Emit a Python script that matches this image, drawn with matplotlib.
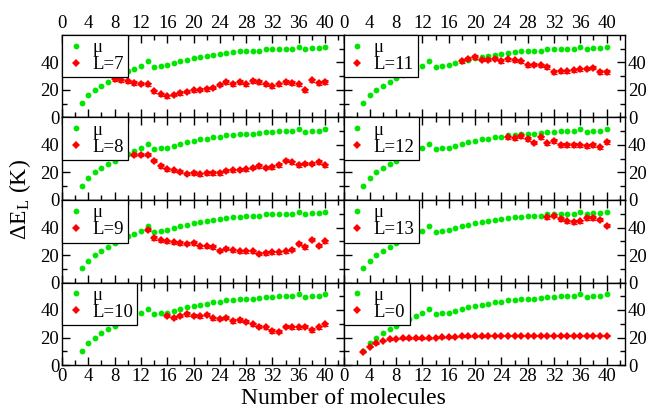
import numpy as np
import matplotlib
matplotlib.use('Agg')
from matplotlib import pyplot as plt

plt.rcParams['font.family'] = ['Liberation Serif', 'DejaVu Serif']
plt.rcParams['mathtext.fontset'] = 'stix'

# chemical potential (same in every panel), N = 3..40
mu_x = np.arange(3, 41)
mu = [10.5, 16, 20, 23, 26, 28.5, 31, 33.5, 35.5, 37.5, 41, 37, 37.5, 38, 39.5, 41,
      42, 43, 44, 44.5, 45.5, 46, 47, 47.5, 48, 48.2, 48.2, 48.7, 49.5, 49.5, 50,
      50, 50, 51.5, 49.5, 50.5, 50.5, 51.5]

labels = ['L=7', 'L=8', 'L=9', 'L=10', 'L=11', 'L=12', 'L=13', 'L=0']
starts = [8, 11, 13, 16, 18, 25, 31, 3]
errs = [1.2, 1.2, 1.2, 1.2, 1.2, 1.3, 1.3, 0.4]

L7 = [28, 27, 26.3, 25, 24.6, 24, 19, 16.8, 15.3, 16.5, 17.8, 18.7, 19.7, 20.2, 20.7,
      21.7, 23.8, 25.8, 24.3, 25.8, 24, 26.5, 25.8, 24, 22.6, 24, 25.8, 25, 24, 19.7,
      27, 25, 25.8]
L8 = [33, 33, 33, 28.5, 24.8, 22.4, 21.7, 20.7, 19.2, 19.7, 18.7, 19.7, 19.7, 19.7,
      21.2, 21.7, 22.1, 22.4, 23.6, 24.8, 23.6, 24, 25.5, 28.5, 27.3, 25.5, 26.5, 26.5,
      27.7, 25.3]
L9 = [38.4, 32.4, 30.7, 29.9, 29.2, 28.7, 28.2, 28.7, 26.3, 26.3, 25.8, 23.1, 24.6,
      23.4, 22.6, 22.6, 22.6, 20.9, 21.4, 21.9, 21.9, 22.6, 23.8, 28.2, 25.8, 31.1,
      26.8, 29.9]
L10 = [36, 34.5, 36, 37, 36, 35.3, 36.5, 34, 33.6, 34.5, 32.1, 32.8, 31.6, 29.7, 28,
       27.3, 24.8, 24.3, 28, 27.3, 27.3, 28, 25.5, 27.3, 29.7]
L11 = [41, 42.8, 44, 42, 42, 42.8, 41, 42.3, 41.6, 40.9, 38, 38.4, 38, 36.7, 33, 33.6,
       33.6, 34.3, 35, 35.5, 36.2, 33, 33]
L12 = [45.5, 44.8, 46.7, 44.3, 41.8, 45.5, 41.1, 43, 40, 40.1, 40.1, 39.7, 39.2, 40,
       38.2, 42.3]
L13 = [47.4, 48.7, 46.2, 44.5, 44, 44.5, 47, 47, 45.7, 41.4]
L0 = [9.7, 13.4, 15.8, 17.5, 18.7, 19.2, 19.5, 19.6, 19.6, 19.6, 19.4, 20, 20.2, 20.4,
      20.6, 20.8, 21, 21, 21.1, 21.2, 21.2, 21.2, 21.3, 21.3, 21.3, 21.3, 21.3, 21.3,
      21.3, 21.3, 21.3, 21.3, 21.3, 21.3, 21.3, 21.3, 21.3, 21.4]
series = [L7, L8, L9, L10, L11, L12, L13, L0]

green = '#00e600'
red = '#ff0000'

fig = plt.figure(figsize=(6.53, 4.12), dpi=100)
left, mid, right = 62 / 653, 343.5 / 653, 625 / 653
top, bot = 1 - 35 / 412, 1 - 365 / 412
h = (top - bot) / 4

for i in range(8):
    col = i // 4
    row = i % 4
    x0 = left if col == 0 else mid
    w = (mid - left) if col == 0 else (right - mid)
    ax = fig.add_axes([x0, top - (row + 1) * h, w, h])

    rx = np.arange(starts[i], 41)
    ax.plot(mu_x, mu, 'o', color=green, ms=4.2, mew=0, label='μ', zorder=3)
    ax.errorbar(rx, series[i], yerr=errs[i], fmt='none', ecolor=red, elinewidth=0.9,
                capsize=2, capthick=0.9, zorder=4)
    ax.plot(rx, series[i], 'D', color=red, ms=4.3, mew=0, label=labels[i], zorder=5)

    ax.set_xlim(0, 42.8)
    ax.set_ylim(0, 60)
    ax.set_xticks(np.arange(0, 41, 4))
    ax.set_xticks(np.arange(0, 43, 2), minor=True)
    ax.set_yticks([0, 20, 40])
    ax.set_yticks([10, 30, 50], minor=True)
    ax.tick_params(which='both', direction='in', top=True, bottom=True, left=True,
                   right=True, labelsize=13.5, width=1)
    ax.tick_params(which='major', length=6)
    ax.tick_params(which='minor', length=3.5)
    ax.tick_params(labelbottom=(row == 3), labeltop=(row == 0),
                   labelleft=(col == 0), labelright=(col == 1), pad=2)
    for s in ax.spines.values():
        s.set_linewidth(1)

    leg = ax.legend(loc='upper left', fontsize=13.5, handlelength=1.0,
                    handletextpad=0.4, borderpad=0.22, labelspacing=0.0,
                    borderaxespad=0, fancybox=False, framealpha=1, edgecolor='k')
    leg.get_frame().set_linewidth(0.9)
    leg.set_zorder(10)

fig.text((left + right) / 2, 1 - 398 / 412, 'Number of molecules', ha='center',
         va='center', fontsize=17)
fig.text(20 / 653, 1 - 200 / 412, 'ΔE$_\\mathregular{L}$ (K)', ha='center',
         va='center', rotation=90, fontsize=17)

plt.savefig('out.png', dpi=100)
